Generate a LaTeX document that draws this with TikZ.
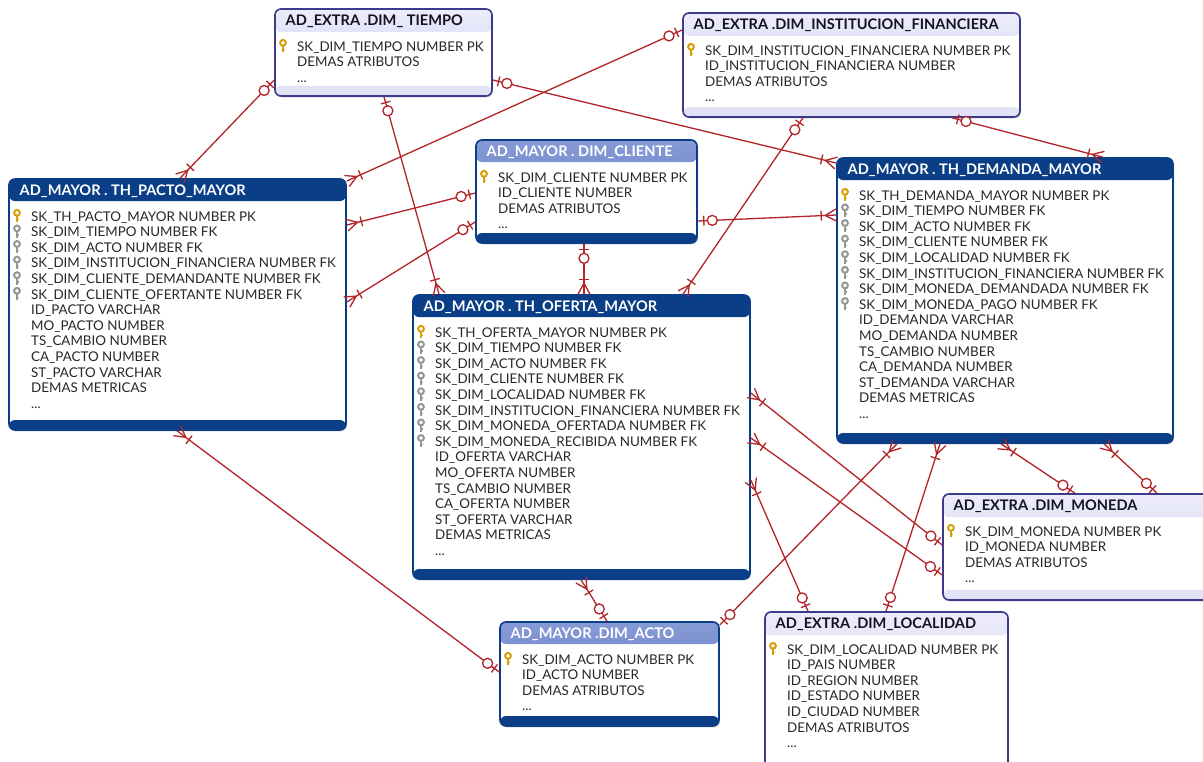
\documentclass[tikz,border=0pt]{standalone}
\usepackage{fontspec}
\setmainfont{Lato}
\usetikzlibrary{calc,shadows}

\definecolor{relred}{RGB}{178,36,40}
\definecolor{navy}{RGB}{10,62,134}
\definecolor{extraborder}{RGB}{60,58,138}
\definecolor{lavtop}{RGB}{236,236,252}
\definecolor{lavbot}{RGB}{204,204,240}
\definecolor{lavfoot}{RGB}{226,226,246}
\definecolor{midtop}{RGB}{134,154,214}
\definecolor{midbot}{RGB}{92,116,186}
\definecolor{pkgold}{RGB}{214,160,10}
\definecolor{fkgray}{RGB}{150,150,150}
\definecolor{rowtext}{RGB}{40,40,40}
\definecolor{titledark}{RGB}{20,20,30}

\tikzset{
  erbox/.style={rounded corners=6pt, line width=1.6pt, inner sep=0pt,
    drop shadow={shadow xshift=1pt, shadow yshift=-1.5pt, opacity=0.25}},
  extra box/.style={erbox, draw=extraborder, fill=white, path picture={
      \shade[top color=lavtop, bottom color=lavbot]
        (path picture bounding box.north west) rectangle ([yshift=-23pt]path picture bounding box.north east);
      \fill[lavfoot] ([yshift=10pt]path picture bounding box.south west) rectangle (path picture bounding box.south east);}},
  fact box/.style={erbox, draw=navy, fill=white, path picture={
      \fill[navy] (path picture bounding box.north west) rectangle ([yshift=-22pt]path picture bounding box.north east);
      \fill[navy] ([yshift=10pt]path picture bounding box.south west) rectangle (path picture bounding box.south east);}},
  dimm box/.style={erbox, draw=navy, fill=white, path picture={
      \shade[top color=midtop, bottom color=midbot]
        (path picture bounding box.north west) rectangle ([yshift=-22pt]path picture bounding box.north east);
      \fill[navy] ([yshift=10pt]path picture bounding box.south west) rectangle (path picture bounding box.south east);}},
  extra title/.style={text=titledark},
  fact title/.style={text=white},
  dimm title/.style={text=white},
  tabletitle/.style={inner sep=0pt, font=\bfseries\fontsize{14.6}{17}\selectfont},
  rowlabel/.style={inner sep=0pt, text=rowtext, font=\fontsize{13.4}{15.6}\selectfont},
  relline/.style={draw=relred, line width=1.3pt},
}

\newcommand\erdots{...}

% key glyph: #1 colour, #2 x, #3 baseline
\newcommand\erkey[3]{%
  \draw[#1, line width=2pt] (#2,#3-8.2) circle[radius=2.9pt];
  \draw[#1, line width=2pt] (#2,#3-5.4) -- (#2,#3+1.2);
  \draw[#1, line width=1.4pt] (#2,#3-1.6) -- ({#2+2.3},#3-1.6);
}

% table: name, kind, x1, y1, x2, y2, title, number of key rows, rows
\newcommand\ertable[9]{%
  \node[#2 box, minimum width={#5pt-#3pt}, minimum height={#6pt-#4pt}]
    (#1) at ({(#3+#5)/2},{(#4+#6)/2}) {};
  \node[tabletitle, #2 title, anchor=base west] (#1-title) at ({#3+10.5},{#4+16.5}) {#7};
  \foreach \r [count=\i] in {#9} {
    \pgfmathsetmacro\yb{#4+42+(\i-1)*15.6}
    \pgfmathsetmacro\xk{#3+8}
    \node[rowlabel, anchor=base west] (#1-r\i) at ({#3+22},\yb) {\r};
    \ifnum\i=1 \erkey{pkgold}{\xk}{\yb}\else\ifnum\i>#8 \else\erkey{fkgray}{\xk}{\yb}\fi\fi
  }
}

% relationship: #1 end at the dimension (zero or one), #2 end at the fact table (many)
\newcommand\errel[2]{%
  \draw[relline] (#1) -- (#2);
  \coordinate (rb1) at ($(#1)!6pt!(#2)$);
  \coordinate (rc) at ($(#1)!14.5pt!(#2)$);
  \coordinate (rb2) at ($(#2)!15pt!(#1)$);
  \coordinate (rq) at ($(#2)!11pt!(#1)$);
  \draw[relline] ($(rb1)!5pt!90:(#2)$) -- ($(rb1)!5pt!-90:(#2)$);
  \draw[relline, fill=white] (rc) circle[radius=5pt];
  \draw[relline] ($(rb2)!5pt!90:(#1)$) -- ($(rb2)!5pt!-90:(#1)$);
  \draw[relline] ($(#2)!6pt!90:(#1)$) -- (rq) -- ($(#2)!6pt!-90:(#1)$);
}

\begin{document}
\begin{tikzpicture}[x=1pt,y=-1pt]
\clip (0,0) rectangle (1203,761);
\fill[white] (0,0) rectangle (1203,761);

% dimension tables
\ertable{tiempo}{extra}{275}{9}{492}{96}{AD\_EXTRA .DIM\_ TIEMPO}{1}%
  {SK\_DIM\_TIEMPO NUMBER PK, DEMAS ATRIBUTOS, \erdots}
\ertable{inst}{extra}{683}{13}{1020}{117}{AD\_EXTRA .DIM\_INSTITUCION\_FINANCIERA}{1}%
  {SK\_DIM\_INSTITUCION\_FINANCIERA NUMBER PK, ID\_INSTITUCION\_FINANCIERA NUMBER, DEMAS ATRIBUTOS, \erdots}
\ertable{cliente}{dimm}{476}{140}{697}{243}{AD\_MAYOR . DIM\_CLIENTE}{1}%
  {SK\_DIM\_CLIENTE NUMBER PK, ID\_CLIENTE NUMBER, DEMAS ATRIBUTOS, \erdots}
\ertable{moneda}{extra}{943}{494}{1215}{600}{AD\_EXTRA .DIM\_MONEDA}{1}%
  {SK\_DIM\_MONEDA NUMBER PK, ID\_MONEDA NUMBER, DEMAS ATRIBUTOS, \erdots}
\ertable{acto}{dimm}{500}{622}{719}{726}{AD\_MAYOR .DIM\_ACTO}{1}%
  {SK\_DIM\_ACTO NUMBER PK, ID\_ACTO NUMBER, DEMAS ATRIBUTOS, \erdots}
\ertable{localidad}{extra}{765}{612}{1008}{775}{AD\_EXTRA .DIM\_LOCALIDAD}{1}%
  {SK\_DIM\_LOCALIDAD NUMBER PK, ID\_PAIS NUMBER, ID\_REGION NUMBER, ID\_ESTADO NUMBER, ID\_CIUDAD NUMBER, DEMAS ATRIBUTOS, \erdots}

% fact tables
\ertable{pacto}{fact}{9}{179}{346}{430}{AD\_MAYOR . TH\_PACTO\_MAYOR}{6}%
  {SK\_TH\_PACTO\_MAYOR NUMBER PK, SK\_DIM\_TIEMPO NUMBER FK, SK\_DIM\_ACTO NUMBER FK,
   SK\_DIM\_INSTITUCION\_FINANCIERA NUMBER FK, SK\_DIM\_CLIENTE\_DEMANDANTE NUMBER FK,
   SK\_DIM\_CLIENTE\_OFERTANTE NUMBER FK, ID\_PACTO VARCHAR, MO\_PACTO NUMBER, TS\_CAMBIO NUMBER,
   CA\_PACTO NUMBER, ST\_PACTO VARCHAR, DEMAS METRICAS, \erdots}
\ertable{oferta}{fact}{413}{295}{750}{579}{AD\_MAYOR . TH\_OFERTA\_MAYOR}{8}%
  {SK\_TH\_OFERTA\_MAYOR NUMBER PK, SK\_DIM\_TIEMPO NUMBER FK, SK\_DIM\_ACTO NUMBER FK,
   SK\_DIM\_CLIENTE NUMBER FK, SK\_DIM\_LOCALIDAD NUMBER FK, SK\_DIM\_INSTITUCION\_FINANCIERA NUMBER FK,
   SK\_DIM\_MONEDA\_OFERTADA NUMBER FK, SK\_DIM\_MONEDA\_RECIBIDA NUMBER FK, ID\_OFERTA VARCHAR,
   MO\_OFERTA NUMBER, TS\_CAMBIO NUMBER, CA\_OFERTA NUMBER, ST\_OFERTA VARCHAR, DEMAS METRICAS, \erdots}
\ertable{demanda}{fact}{837}{158}{1173}{443}{AD\_MAYOR . TH\_DEMANDA\_MAYOR}{8}%
  {SK\_TH\_DEMANDA\_MAYOR NUMBER PK, SK\_DIM\_TIEMPO NUMBER FK, SK\_DIM\_ACTO NUMBER FK,
   SK\_DIM\_CLIENTE NUMBER FK, SK\_DIM\_LOCALIDAD NUMBER FK, SK\_DIM\_INSTITUCION\_FINANCIERA NUMBER FK,
   SK\_DIM\_MONEDA\_DEMANDADA NUMBER FK, SK\_DIM\_MONEDA\_PAGO NUMBER FK, ID\_DEMANDA VARCHAR,
   MO\_DEMANDA NUMBER, TS\_CAMBIO NUMBER, CA\_DEMANDA NUMBER, ST\_DEMANDA VARCHAR, DEMAS METRICAS, \erdots}

% relationships
\errel{tiempo.west |- 0,80}{pacto.north -| 180,0}
\errel{tiempo.south -| 384,0}{oferta.north -| 439,0}
\errel{tiempo.east |- 0,80}{demanda.west |- 0,163}
\errel{inst.west |- 0,30}{pacto.east |- 0,181}
\errel{inst.south -| 803,0}{oferta.north -| 683,0}
\errel{inst.south -| 952,0}{demanda.north -| 1103,0}
\errel{cliente.west |- 0,193}{pacto.east |- 0,225}
\errel{cliente.west |- 0,222}{pacto.east |- 0,302}
\errel{cliente.south -| 584,0}{oferta.north -| 584,0}
\errel{cliente.east |- 0,221}{demanda.west |- 0,215}
\errel{acto.north -| 607,0}{oferta.south -| 581,0}
\errel{acto.west |- 0,672}{pacto.south -| 177,0}
\errel{acto.east |- 0,625}{demanda.south -| 897,0}
\errel{localidad.north -| 886,0}{demanda.south -| 940,0}
\errel{moneda.north -| 1075,0}{demanda.south -| 1001,0}
\errel{moneda.north -| 1157,0}{demanda.south -| 1104,0}
\errel{moneda.west |- 0,545}{oferta.east |- 0,393}
\errel{moneda.west |- 0,575}{oferta.east |- 0,438}
\errel{localidad.north -| 808,0}{oferta.east |- 0,480}
\end{tikzpicture}
\end{document}
